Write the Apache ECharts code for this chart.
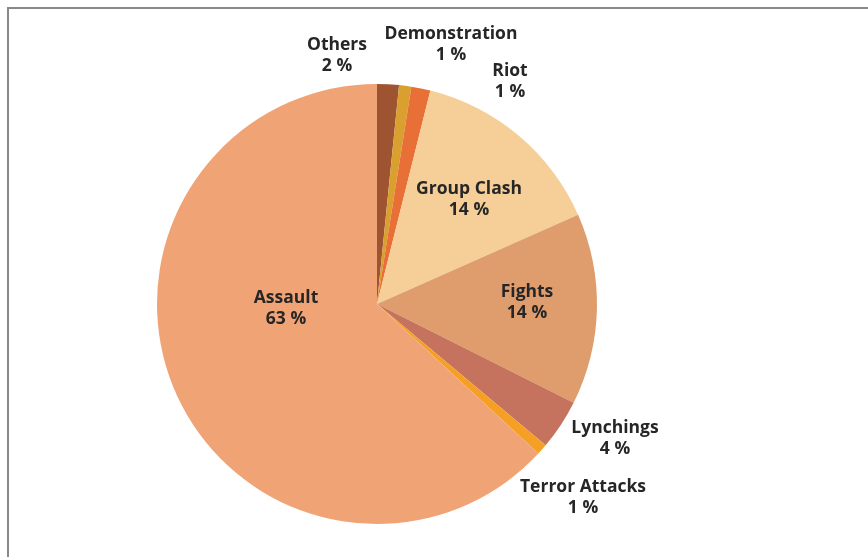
<!DOCTYPE html>
<html><head><meta charset="utf-8">
<script src="https://cdn.jsdelivr.net/npm/echarts@6/dist/echarts.min.js"></script>
<style>html,body{margin:0;padding:0;background:#fff}#c{width:868px;height:557px}</style>
</head><body><div id="c"></div>
<script>
const categories = ['Others','Demonstration','Riot','Group Clash','Fights','Lynchings','Terror Attacks','Assault'];
const values = [1.6, 0.9, 1.4, 14.45, 14.05, 3.7, 0.8, 63.1];
const colors = ['#9E5430','#D9A030','#E86F35','#F5CE98','#DF9D6E','#C5735E','#F5A024','#F0A476'];
const labelPos = [[337,56],[451,45],[510,82],[469,200],[527,303],[615,439],[583,498],[286,309]];

const chart = echarts.init(document.getElementById('c'));
chart.setOption({
  animation:false,
  graphic:[{type:'rect',shape:{x:8,y:8,width:900,height:600},style:{fill:'none',stroke:'#888',lineWidth:2},silent:true}],
  series:[{
    type:'pie',
    center:[377,304],
    radius:[0,220],
    startAngle:90,
    clockwise:true,
    avoidLabelOverlap:false,
    data:categories.map((n,i)=>({name:n,value:values[i],itemStyle:{color:colors[i]}})),
    label:{show:true,position:'outside',formatter:p=>p.name+'\n'+Math.round(p.value)+' %',
      fontFamily:'Open Sans',fontWeight:'bold',fontSize:17.5,color:'#262626',lineHeight:21,align:'center'},
    labelLine:{show:false},
    labelLayout:p=>({x:labelPos[p.dataIndex][0],y:labelPos[p.dataIndex][1],align:'center',verticalAlign:'middle'})
  }]
});
</script></body></html>
